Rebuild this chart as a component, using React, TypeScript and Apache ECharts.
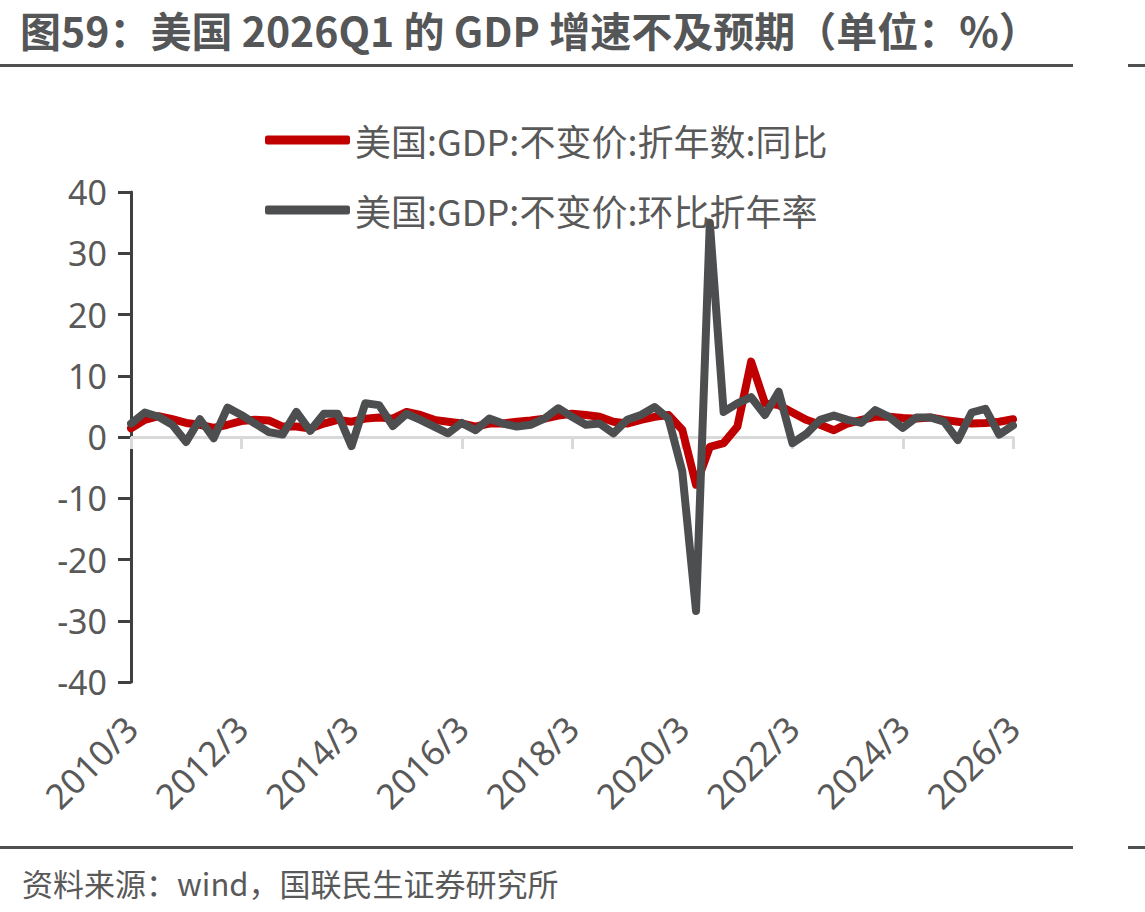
import React, { useEffect, useRef } from "react";
import * as echarts from "echarts";

// Quarter-end labels, 2010Q1 .. 2026Q1
const quarters: string[] = [
  "2010/3", "2010/6", "2010/9", "2010/12",
  "2011/3", "2011/6", "2011/9", "2011/12",
  "2012/3", "2012/6", "2012/9", "2012/12",
  "2013/3", "2013/6", "2013/9", "2013/12",
  "2014/3", "2014/6", "2014/9", "2014/12",
  "2015/3", "2015/6", "2015/9", "2015/12",
  "2016/3", "2016/6", "2016/9", "2016/12",
  "2017/3", "2017/6", "2017/9", "2017/12",
  "2018/3", "2018/6", "2018/9", "2018/12",
  "2019/3", "2019/6", "2019/9", "2019/12",
  "2020/3", "2020/6", "2020/9", "2020/12",
  "2021/3", "2021/6", "2021/9", "2021/12",
  "2022/3", "2022/6", "2022/9", "2022/12",
  "2023/3", "2023/6", "2023/9", "2023/12",
  "2024/3", "2024/6", "2024/9", "2024/12",
  "2025/3", "2025/6", "2025/9", "2025/12",
  "2026/3",
];

// 美国:GDP:不变价:折年数:同比 (%)
const gdpYoY: number[] = [
  1.4, 2.8, 3.4, 2.9,
  2.3, 2.0, 1.5, 2.0,
  2.6, 2.8, 2.7, 1.7,
  1.7, 1.4, 2.2, 2.8,
  2.5, 3.0, 3.2, 3.0,
  4.1, 3.6, 2.8, 2.5,
  2.2, 1.7, 2.2, 2.2,
  2.5, 2.7, 3.0, 3.5,
  3.8, 3.6, 3.3, 2.5,
  2.2, 2.8, 3.3, 3.6,
  1.2, -7.8, -1.6, -1.0,
  1.7, 12.3, 5.5, 5.2,
  4.0, 2.8, 2.0, 1.1,
  2.2, 2.8, 3.3, 3.3,
  3.1, 3.0, 3.2, 2.8,
  2.5, 2.2, 2.3, 2.5,
  2.9,
];

// 美国:GDP:不变价:环比折年率 (%)
const gdpQoQSaar: number[] = [
  2.2, 4.0, 3.3, 2.0,
  -0.8, 2.9, -0.2, 4.8,
  3.6, 2.2, 0.8, 0.4,
  4.1, 1.0, 3.8, 3.8,
  -1.5, 5.5, 5.2, 1.8,
  3.8, 2.8, 1.7, 0.6,
  2.3, 1.1, 3.0, 2.2,
  1.7, 2.0, 3.0, 4.7,
  3.3, 2.0, 2.2, 0.6,
  2.8, 3.6, 4.9, 3.0,
  -5.6, -28.4, 35.0, 4.1,
  5.5, 6.5, 3.6, 7.4,
  -1.0, 0.5, 2.8, 3.5,
  2.8, 2.3, 4.4, 3.3,
  1.5, 3.2, 3.2, 2.5,
  -0.5, 4.0, 4.6, 0.4,
  1.9,
];

const yMin = -40;
const yMax = 40;
const yStep = 10;

const TITLE = "图59：美国 2026Q1 的 GDP 增速不及预期（单位：%）";
const SOURCE = "资料来源：wind，国联民生证券研究所";
const NAME_YOY = "美国:GDP:不变价:折年数:同比";
const NAME_QOQ = "美国:GDP:不变价:环比折年率";

const FONT = '"Noto Sans CJK SC", "Microsoft YaHei", sans-serif';
const NUM_FONT = '"Noto Sans", "Noto Sans CJK SC", sans-serif';
const TEXT_GREY = "#595959";
const RULE_GREY = "#4f5052";

export default function App() {
  const ref = useRef<HTMLDivElement>(null);

  useEffect(() => {
    if (!ref.current) return;
    const chart = echarts.init(ref.current, undefined, { renderer: "svg" });

    const everyTwoYears = (idx: number) => idx % 8 === 0;

    chart.setOption({
      animation: false,
      backgroundColor: "#ffffff",
      textStyle: { fontFamily: FONT },
      grid: { left: 131, right: 132, top: 192, bottom: 230, containLabel: false },
      legend: {
        orient: "vertical",
        left: 265,
        top: 122,
        padding: 0,
        itemWidth: 85,
        itemHeight: 9,
        itemGap: 34,
        icon: "roundRect",
        textStyle: { fontSize: 36, color: TEXT_GREY, fontFamily: FONT },
        data: [NAME_YOY, NAME_QOQ],
      },
      xAxis: [
        {
          // zero line with a tick every two years
          type: "category",
          data: quarters,
          boundaryGap: false,
          position: "bottom",
          axisLine: { onZero: true, lineStyle: { color: "#d9d9d9", width: 3 } },
          axisTick: { show: true, interval: everyTwoYears, length: 12, lineStyle: { color: "#d9d9d9", width: 3 } },
          axisLabel: { show: false },
          splitLine: { show: false },
        },
        {
          // date labels along the bottom edge of the plot
          type: "category",
          data: quarters,
          boundaryGap: false,
          position: "bottom",
          axisLine: { show: false, onZero: false },
          axisTick: { show: false },
          axisLabel: {
            interval: everyTwoYears,
            rotate: 45,
            margin: 40,
            fontSize: 35,
            color: TEXT_GREY,
            fontFamily: NUM_FONT,
          },
          splitLine: { show: false },
        },
      ],
      yAxis: {
        type: "value",
        min: yMin,
        max: yMax,
        interval: yStep,
        axisLine: { show: true, lineStyle: { color: "#404040", width: 3 } },
        axisTick: { show: true, length: 13, lineStyle: { color: "#404040", width: 3 } },
        axisLabel: { margin: 24, fontSize: 34, color: TEXT_GREY, fontFamily: NUM_FONT },
        splitLine: { show: false },
      },
      series: [
        {
          name: NAME_YOY,
          type: "line",
          xAxisIndex: 0,
          data: gdpYoY,
          symbol: "none",
          color: "#c00000",
          lineStyle: { width: 8, color: "#c00000", join: "round", cap: "round" },
          z: 2,
        },
        {
          name: NAME_QOQ,
          type: "line",
          xAxisIndex: 0,
          data: gdpQoQSaar,
          symbol: "none",
          color: "#4d4e50",
          lineStyle: { width: 8, color: "#4d4e50", join: "round", cap: "round" },
          z: 3,
        },
      ],
      graphic: [
        {
          type: "text",
          x: 20,
          y: 7,
          style: {
            text: TITLE,
            fontSize: 41,
            lineHeight: 44,
            fontWeight: "bold",
            fill: "#555657",
            fontFamily: FONT,
            textAlign: "left",
            textVerticalAlign: "top",
          },
        },
        { type: "rect", shape: { x: 0, y: 64, width: 1073, height: 3 }, style: { fill: RULE_GREY } },
        { type: "rect", shape: { x: 1128, y: 64, width: 17, height: 3 }, style: { fill: RULE_GREY } },
        { type: "rect", shape: { x: 0, y: 846, width: 1073, height: 3 }, style: { fill: RULE_GREY } },
        { type: "rect", shape: { x: 1128, y: 846, width: 17, height: 3 }, style: { fill: RULE_GREY } },
        {
          type: "text",
          x: 22,
          y: 882,
          style: {
            text: SOURCE,
            fontSize: 31,
            fill: TEXT_GREY,
            fontFamily: FONT,
            textAlign: "left",
            textVerticalAlign: "middle",
          },
        },
      ],
    });

    return () => chart.dispose();
  }, []);

  return (
    <div
      ref={ref}
      style={{ position: "fixed", left: 0, top: 0, width: 1145, height: 912, background: "#fff" }}
    />
  );
}
